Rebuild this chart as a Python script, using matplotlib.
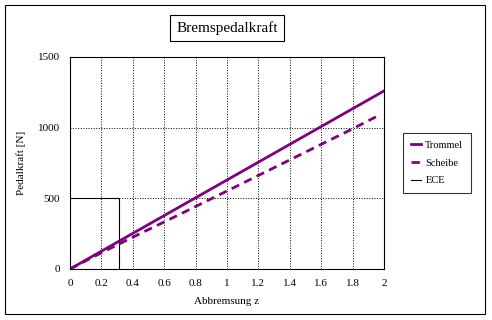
import matplotlib.pyplot as plt
from matplotlib.patches import Rectangle

# values
z = [0, 0.2, 0.4, 0.6, 0.8, 1.0, 1.2, 1.4, 1.6, 1.8, 2.0]
trommel = [0, 126, 252, 378, 504, 630, 756, 882, 1008, 1134, 1260]
z_scheibe = [0, 0.2, 0.4, 0.6, 0.8, 1.0, 1.2, 1.4, 1.6, 1.8, 1.96]
scheibe = [0, 115, 225, 333, 442, 552, 662, 772, 882, 992, 1083]
ece_z = [0, 0.31, 0.31]
ece_f = [500, 500, 0]

xticks = [0, 0.2, 0.4, 0.6, 0.8, 1, 1.2, 1.4, 1.6, 1.8, 2]
yticks = [0, 500, 1000, 1500]

plt.rcParams['font.family'] = ['Liberation Serif', 'DejaVu Serif']
purple = '#800080'

W, H = 492, 320
fig = plt.figure(figsize=(W / 100, H / 100), dpi=100)

# outer frame
fig.patches.append(Rectangle((5 / W, 1 - 314 / H), 480 / W, 309 / H,
                             transform=fig.transFigure, fill=False,
                             edgecolor='black', linewidth=0.8))

ax = fig.add_axes([70 / W, 1 - 269 / H, 314 / W, 212 / H])
ax.plot(z, trommel, color=purple, linewidth=2, label='Trommel')
ax.plot(z_scheibe, scheibe, color=purple, linewidth=2, dashes=(3, 2), label='Scheibe')
ax.plot(ece_z, ece_f, color='black', linewidth=0.8, label='ECE')

ax.set_xlim(0, 2)
ax.set_ylim(0, 1500)
ax.set_xticks(xticks)
ax.set_xticklabels([f'{t:g}' for t in xticks])
ax.set_yticks(yticks)
ax.tick_params(length=0, labelsize=8, pad=7)
ax.grid(True, color='black', linestyle=':', linewidth=0.7)
for s in ax.spines.values():
    s.set_linewidth(0.8)

ax.set_xlabel('Abbremsung z', fontsize=8, labelpad=7)
ax.set_ylabel('Pedalkraft [N]', fontsize=8, labelpad=9)

fig.text(227 / W, 1 - 28 / H, 'Bremspedalkraft', fontsize=11, ha='center', va='center',
         bbox=dict(boxstyle='square,pad=0.4', facecolor='white', edgecolor='black', linewidth=0.8))

leg = fig.legend(loc='center', bbox_to_anchor=(437 / W, 1 - 163 / H), fontsize=7.5,
                 handlelength=1.0, frameon=True, fancybox=False, edgecolor='black',
                 borderpad=0.7, labelspacing=0.8, handletextpad=0.4)
leg.get_frame().set_linewidth(0.8)

plt.savefig('out.png', dpi=100)
